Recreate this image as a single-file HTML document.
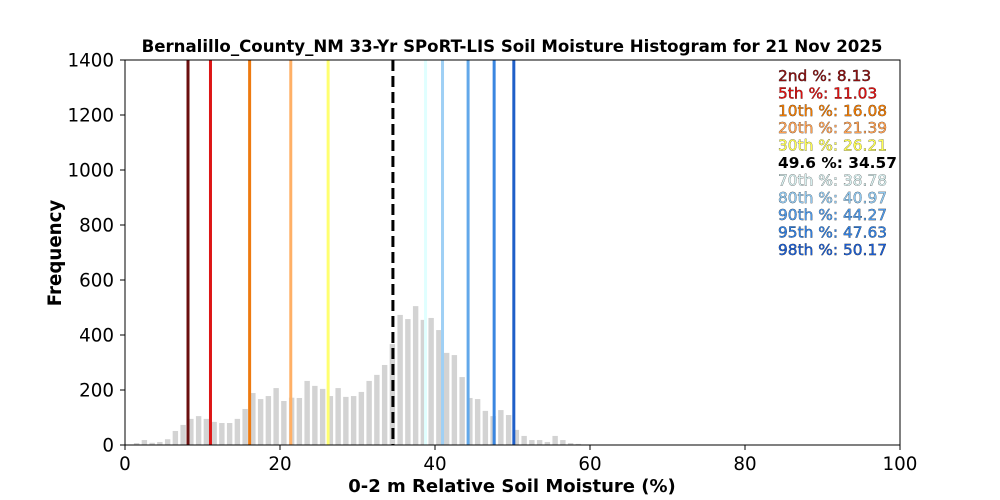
<!DOCTYPE html>
<html><head><meta charset="utf-8"><style>body{margin:0;background:#fff}svg{display:block}text{font-family:"DejaVu Sans","Liberation Sans",sans-serif}</style></head><body>
<svg width="1000" height="500" xmlns="http://www.w3.org/2000/svg">
<rect width="1000" height="500" fill="#fff"/>
<g id="bars" fill="#d3d3d3"></g>
<g id="lines"></g>
<rect x="125" y="60" width="775" height="385" fill="none" stroke="#000" stroke-width="1"/>
<g id="ticks" font-size="18.3" fill="#000"></g>
<text x="512" y="52" text-anchor="middle" font-size="16.6" font-weight="bold">Bernalillo_County_NM 33-Yr SPoRT-LIS Soil Moisture Histogram for 21 Nov 2025</text>
<text x="512" y="492" text-anchor="middle" font-size="18" font-weight="bold">0-2 m Relative Soil Moisture (%)</text>
<text transform="translate(61,253) rotate(-90)" text-anchor="middle" font-size="18.2" font-weight="bold">Frequency</text>
<g id="leg" font-size="15.4"></g>
</svg>
<script>
var NS="http://www.w3.org/2000/svg";
function X(v){return 125+v*7.75}function Y(c){return 445-c*0.275}
var h={1.5:7,2.5:18,3.5:8,4.5:11,5.5:21,6.5:51,7.5:73,8.5:95,9.5:105,10.5:95,11.5:84,12.5:80,13.5:80,14.5:95,15.5:131,16.5:189,17.5:167,18.5:178,19.5:207,20.5:160,21.5:172,22.5:171,23.5:233,24.5:215,25.5:204,26.5:178,27.5:207,28.5:175,29.5:178,30.5:193,31.5:233,32.5:255,33.5:291,34.5:367,35.5:473,36.5:458,37.5:505,38.5:455,39.5:462,40.5:418,41.5:335,42.5:327,43.5:247,44.5:171,45.5:167,46.5:124,47.5:105,48.5:127,49.5:109,50.5:55,51.5:33,52.5:18,53.5:18,54.5:11,55.5:33,56.5:18,57.5:7,58.5:4};
var b=document.getElementById("bars"),s="";
for(var k in h){var c=+k;s+='<rect x="'+(X(c)-2.7)+'" y="'+Y(h[k])+'" width="5.4" height="'+(h[k]*0.275)+'"/>';}
b.innerHTML=s;
var L=[[8.13,"#6b0f0f"],[11.03,"#dd1616"],[16.08,"#ee7a10"],[21.39,"#ffb066"],[26.21,"#ffff70"],[38.78,"#e0ffff"],[40.97,"#9fd0f5"],[44.27,"#62a8ea"],[47.63,"#3a86e0"],[50.17,"#1f5fc8"]];
s="";L.forEach(function(l){s+='<line x1="'+X(l[0])+'" x2="'+X(l[0])+'" y1="60" y2="445" stroke="'+l[1]+'" stroke-width="3"/>';});
s+='<line x1="'+X(34.57)+'" x2="'+X(34.57)+'" y1="60" y2="445" stroke="#000" stroke-width="3" stroke-dasharray="11,5"/>';
document.getElementById("lines").innerHTML=s;
s="";[0,20,40,60,80,100].forEach(function(v){s+='<line x1="'+X(v)+'" x2="'+X(v)+'" y1="445" y2="450" stroke="#000"/><text x="'+X(v)+'" y="470" text-anchor="middle">'+v+'</text>';});
for(var c=0;c<=1400;c+=200){s+='<line x1="120" x2="125" y1="'+Y(c)+'" y2="'+Y(c)+'" stroke="#000"/><text x="114" y="'+(Y(c)+6.5)+'" text-anchor="end">'+c+'</text>';}
document.getElementById("ticks").innerHTML=s;
var T=[["2nd %: 8.13","#8a1010"],["5th %: 11.03","#e01010"],["10th %: 16.08","#f07a00"],["20th %: 21.39","#ffa050"],["30th %: 26.21","#ffff50"],["49.6 %: 34.57","#000",1],["70th %: 38.78","#d8f0f0"],["80th %: 40.97","#90c8f0"],["90th %: 44.27","#4d98e8"],["95th %: 47.63","#2f7ee0"],["98th %: 50.17","#1a5cd0"]];
s="";T.forEach(function(t,i){var y=81+i*17.4;if(t[2])s+='<text x="778" y="'+y+'" font-weight="bold">'+t[0]+'</text>';else s+='<text x="778" y="'+y+'" fill="'+t[1]+'" stroke="#111" stroke-width="0.45" paint-order="stroke">'+t[0]+'</text>';});
document.getElementById("leg").innerHTML=s;
</script>
</body></html>
